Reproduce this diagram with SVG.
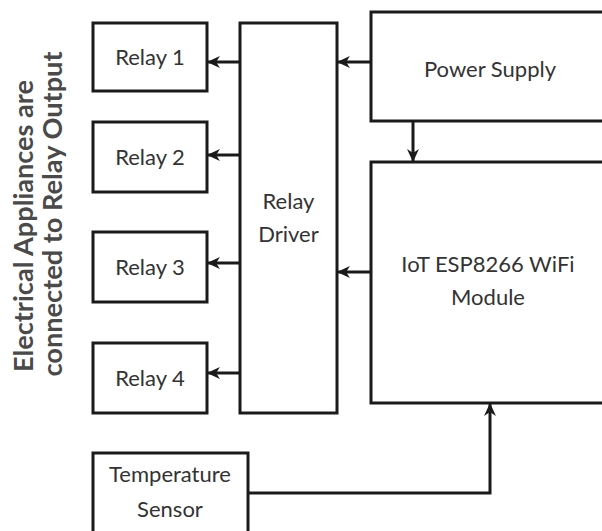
<svg xmlns="http://www.w3.org/2000/svg" width="602" height="531" viewBox="0 0 602 531">
<defs>
<style>
.box{fill:#fff;stroke:#1a1a1a;stroke-width:3}
.lbl{font-family:Lato,"Open Sans","Liberation Sans",sans-serif;font-size:22px;fill:#333;text-anchor:middle}
.side{font-family:Lato,"Open Sans","Liberation Sans",sans-serif;font-size:26px;font-weight:bold;fill:#4a4a4a;text-anchor:middle}
.wire{fill:none;stroke:#1a1a1a;stroke-width:3}
</style>
<marker id="ah" viewBox="0 0 12 12" refX="11" refY="6" markerWidth="13" markerHeight="13" markerUnits="userSpaceOnUse" orient="auto">
<path d="M0,0.5 L12,6 L0,11.5 L3.5,6 Z" fill="#1a1a1a"/>
</marker>
</defs>
<rect width="602" height="531" fill="#fff"/>
<g id="side-label">
<text class="side" transform="translate(33,226) rotate(-90)" textLength="292" lengthAdjust="spacingAndGlyphs">Electrical Appliances are</text>
<text class="side" transform="translate(62,214) rotate(-90)" textLength="325" lengthAdjust="spacingAndGlyphs">connected to Relay Output</text>
</g>
<g id="relay1"><rect class="box" x="93" y="23" width="114" height="68"/><text class="lbl" x="150" y="65">Relay 1</text></g>
<g id="relay2"><rect class="box" x="93" y="122" width="114" height="70"/><text class="lbl" x="150" y="165">Relay 2</text></g>
<g id="relay3"><rect class="box" x="93" y="232" width="114" height="70"/><text class="lbl" x="150" y="275">Relay 3</text></g>
<g id="relay4"><rect class="box" x="93" y="343" width="114" height="70"/><text class="lbl" x="150" y="386">Relay 4</text></g>
<g id="relay-driver"><rect class="box" x="240" y="23" width="97" height="390"/><text class="lbl" x="288.5" y="209">Relay</text><text class="lbl" x="288.5" y="242">Driver</text></g>
<g id="power-supply"><rect class="box" x="371" y="12" width="240" height="109"/><text class="lbl" x="490" y="77">Power Supply</text></g>
<g id="esp-module"><rect class="box" x="371" y="162" width="240" height="241"/><text class="lbl" x="488" y="272">IoT ESP8266 WiFi</text><text class="lbl" x="488" y="305">Module</text></g>
<g id="temp-sensor"><rect class="box" x="93" y="453" width="155" height="90"/><text class="lbl" x="170" y="482">Temperature</text><text class="lbl" x="170" y="517">Sensor</text></g>
<g id="connectors">
<line class="wire" x1="371" y1="62" x2="338" y2="62" marker-end="url(#ah)"/>
<line class="wire" x1="413" y1="121" x2="413" y2="161" marker-end="url(#ah)"/>
<line class="wire" x1="371" y1="272" x2="338" y2="272" marker-end="url(#ah)"/>
<line class="wire" x1="240" y1="62" x2="208" y2="62" marker-end="url(#ah)"/>
<line class="wire" x1="240" y1="155" x2="208" y2="155" marker-end="url(#ah)"/>
<line class="wire" x1="240" y1="263" x2="208" y2="263" marker-end="url(#ah)"/>
<line class="wire" x1="240" y1="373" x2="208" y2="373" marker-end="url(#ah)"/>
<polyline class="wire" points="248,493 490,493 490,404" marker-end="url(#ah)"/>
</g>
</svg>
